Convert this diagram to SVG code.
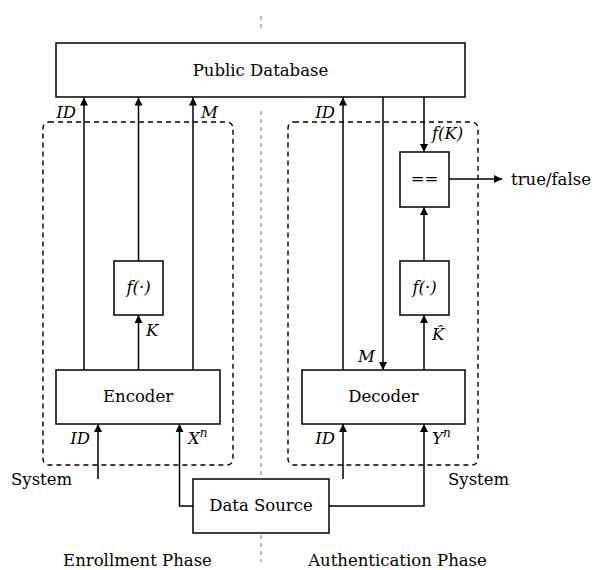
<svg xmlns="http://www.w3.org/2000/svg" width="595" height="570" viewBox="0 0 595 570">
<defs>
<marker id="ah" viewBox="0 0 10 10" refX="10" refY="5" markerWidth="8" markerHeight="8" markerUnits="userSpaceOnUse" orient="auto">
<path d="M0,0 L10,5 L0,10 z" fill="#000"/>
</marker>
<style>
.box{fill:#fff;stroke:#000;stroke-width:1.5}
.dbox{fill:none;stroke:#000;stroke-width:1.4;stroke-dasharray:5,4}
.a{fill:none;stroke:#000;stroke-width:1.5;marker-end:url(#ah)}
.sep{stroke:#888;stroke-width:1.2;stroke-dasharray:4,4;fill:none}
text{font-family:"DejaVu Serif","Liberation Serif",serif;font-size:16.5px;fill:#000}
.t{text-anchor:middle}
.i{font-style:italic}
</style>
</defs>
<rect width="595" height="570" fill="#fff"/>
<g id="separator">
<line class="sep" x1="261" y1="16" x2="261" y2="29"/>
<line class="sep" x1="261" y1="111" x2="261" y2="562"/>
</g>
<g id="enroll-system">
<rect class="dbox" x="43" y="122" width="190" height="343" rx="6"/>
</g>
<g id="auth-system">
<rect class="dbox" x="288" y="122" width="190" height="343" rx="6"/>
</g>
<g id="connectors">
<line class="a" x1="84" y1="370" x2="84" y2="97.5"/>
<line class="a" x1="138.5" y1="261" x2="138.5" y2="97.5"/>
<line class="a" x1="193" y1="370" x2="193" y2="97.5"/>
<line class="a" x1="138.5" y1="370" x2="138.5" y2="315"/>
<line class="a" x1="98" y1="479" x2="98" y2="424"/>
<polyline class="a" points="193,506 179.5,506 179.5,424"/>
<line class="a" x1="343" y1="370" x2="343" y2="97.5"/>
<line class="a" x1="383" y1="97" x2="383" y2="370"/>
<line class="a" x1="424" y1="97" x2="424" y2="152"/>
<line class="a" x1="449" y1="179" x2="502" y2="179"/>
<line class="a" x1="424" y1="261" x2="424" y2="207"/>
<line class="a" x1="424" y1="370" x2="424" y2="315"/>
<line class="a" x1="343" y1="479" x2="343" y2="424"/>
<polyline class="a" points="329,506 424,506 424,424"/>
</g>
<g id="public-database">
<rect class="box" x="56" y="43" width="409" height="54"/>
<text class="t" x="260.5" y="76">Public Database</text>
</g>
<g id="f-enc">
<rect class="box" x="114" y="261" width="49" height="54"/>
<text class="t i" x="138.5" y="293">f(·)</text>
</g>
<g id="encoder">
<rect class="box" x="56" y="370" width="164" height="54"/>
<text class="t" x="138" y="402">Encoder</text>
</g>
<g id="compare">
<rect class="box" x="400" y="152" width="49" height="55"/>
<text class="t" x="424.5" y="184">==</text>
</g>
<g id="f-dec">
<rect class="box" x="400" y="261" width="49" height="54"/>
<text class="t i" x="424.5" y="293">f(·)</text>
</g>
<g id="decoder">
<rect class="box" x="302" y="370" width="163" height="54"/>
<text class="t" x="383.5" y="402">Decoder</text>
</g>
<g id="data-source">
<rect class="box" x="193" y="479" width="136" height="54"/>
<text class="t" x="261" y="511">Data Source</text>
</g>
<g id="labels">
<text class="i" x="76" y="118" text-anchor="end">ID</text>
<text class="i" x="201" y="118">M</text>
<text class="i" x="146" y="336">K</text>
<text class="i" x="90" y="444" text-anchor="end">ID</text>
<text class="i" x="188" y="444">X<tspan dy="-7" font-size="12">n</tspan></text>
<text x="11" y="485">System</text>
<text class="i" x="335" y="118" text-anchor="end">ID</text>
<text class="i" x="432" y="139">f(K)</text>
<text x="511" y="185">true/false</text>
<text class="i" x="375" y="362" text-anchor="end">M</text>
<text class="i" x="432" y="340">K̂</text>
<text class="i" x="335" y="444" text-anchor="end">ID</text>
<text class="i" x="432" y="444">Y<tspan dy="-7" font-size="12">n</tspan></text>
<text x="448" y="485">System</text>
<text class="t" x="137.5" y="566">Enrollment Phase</text>
<text class="t" x="397.5" y="566">Authentication Phase</text>
</g>
</svg>
